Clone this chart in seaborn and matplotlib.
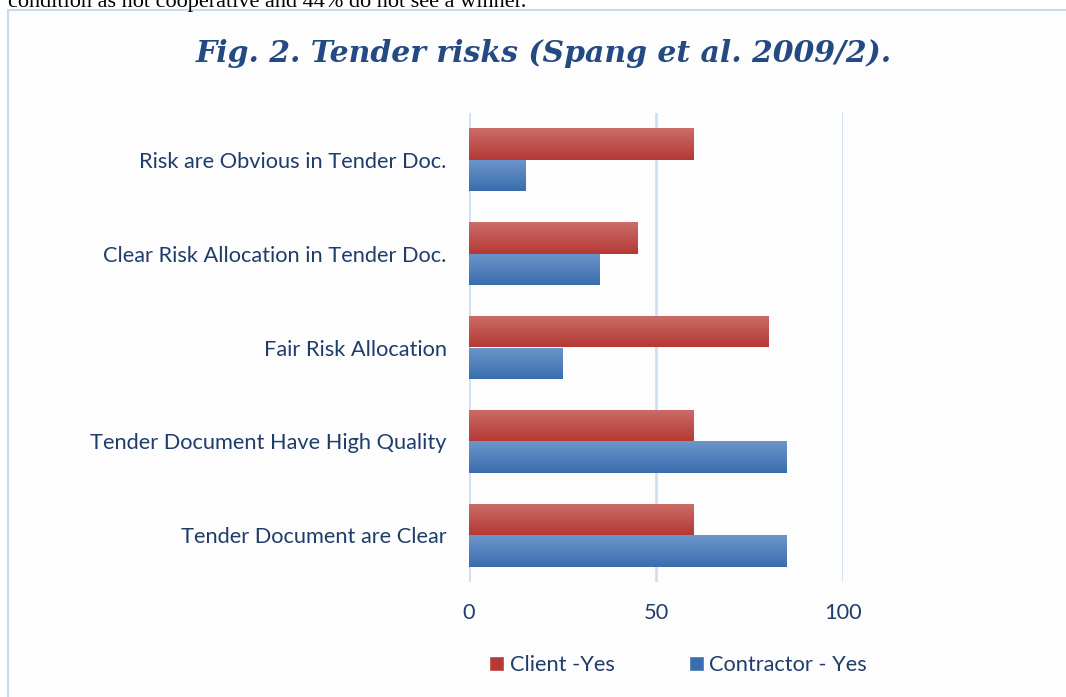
import numpy as np
import pandas as pd
import matplotlib
matplotlib.use("Agg")
import matplotlib.pyplot as plt
import matplotlib.colors as mcolors
from matplotlib.patches import Rectangle, Patch
import seaborn as sns

categories = ["Risk are Obvious in Tender Doc.",
              "Clear Risk Allocation in Tender Doc.",
              "Fair Risk Allocation",
              "Tender Document Have High Quality",
              "Tender Document are Clear"]
client_yes = [60, 45, 80, 60, 60]
contractor_yes = [15, 35, 25, 85, 85]
series = ["Client -Yes", "Contractor - Yes"]
x_ticks = [0, 50, 100]

df = pd.DataFrame({
    "category": categories * 2,
    "value": client_yes + contractor_yes,
    "series": [series[0]] * len(categories) + [series[1]] * len(categories),
})

navy = "#1F3D6B"
grid_blue = "#CEDFF3"
red_top, red_bot = "#CB6D69", "#B53935"
blue_top, blue_bot = "#6C96CB", "#3A6DAE"

sns.set_theme(style="white")
plt.rcParams["font.family"] = ["Lato", "DejaVu Sans"]

fig = plt.figure(figsize=(10.66, 6.97), dpi=100)
fig.patch.set_facecolor("white")

# frame of the chart box (cut off at right / bottom like the scan)
fig.patches.append(Rectangle((8 / 1066, -0.05), 1.1, 1 - 10 / 697 + 0.05,
                             transform=fig.transFigure, facecolor="#FDFDFD",
                             edgecolor="#C9DAEE", linewidth=1.5, zorder=-5))
# line of body text above the chart, clipped by the top edge
fig.text(8 / 1066, 1 - 7 / 697, "condition as not cooperative and 44% do not see a winner.",
         family="Liberation Serif", fontsize=16, color="black", va="baseline", ha="left")

fig.text(0.510, 1 - 53 / 697, "Fig. 2. Tender risks (Spang et al. 2009/2).",
         family="DejaVu Serif", fontsize=21.5, fontweight="bold", fontstyle="italic",
         color="#234A82", ha="center", va="center")

ax = fig.add_axes([469 / 1066, 1 - 582 / 697, 374 / 1066, 469 / 697])
ax.patch.set_alpha(0)
sns.barplot(data=df, y="category", x="value", hue="series", hue_order=series,
            order=categories, orient="h", width=0.67, palette=[red_bot, blue_bot],
            legend=False, ax=ax, saturation=1)

# vertical gradient fill on each bar, like the Excel style
for patch in list(ax.patches):
    x, y, w, h = patch.get_x(), patch.get_y(), patch.get_width(), patch.get_height()
    if w == 0:
        continue
    is_red = mcolors.to_hex(patch.get_facecolor()) == red_bot.lower()
    c0 = np.array(mcolors.to_rgb(red_top if is_red else blue_top))
    c1 = np.array(mcolors.to_rgb(red_bot if is_red else blue_bot))
    t = np.linspace(0, 1, 64)[:, None, None]
    grad = c0 * (1 - t) + c1 * t
    im = ax.imshow(grad, extent=(x, x + w, y + h, y), origin="upper",
                   aspect="auto", interpolation="bilinear", zorder=2)
    im.set_clip_path(patch)
    patch.set_facecolor("none")
    patch.set_edgecolor("none")

ax.set_xlim(0, 100)
ax.set_ylim(4.5, -0.5)
ax.set_xticks(x_ticks)
ax.xaxis.grid(True, color=grid_blue, linewidth=2)
ax.set_axisbelow(True)
for s in ax.spines.values():
    s.set_visible(False)
ax.set_xlabel("")
ax.set_ylabel("")
ax.tick_params(axis="x", length=0, pad=15, labelsize=15.7, labelcolor=navy)
ax.tick_params(axis="y", length=0, pad=16, labelsize=15.7, labelcolor=navy)

handles = [Patch(facecolor=red_bot, label=series[0]),
           Patch(facecolor=blue_bot, label=series[1])]
fig.legend(handles=handles, loc="center", bbox_to_anchor=(0.636, 1 - 665 / 697),
           ncol=2, frameon=False, fontsize=15.7, labelcolor=navy,
           handlelength=0.7, handleheight=0.7, handletextpad=0.25, columnspacing=3.4)

fig.savefig("out.png", dpi=100)
